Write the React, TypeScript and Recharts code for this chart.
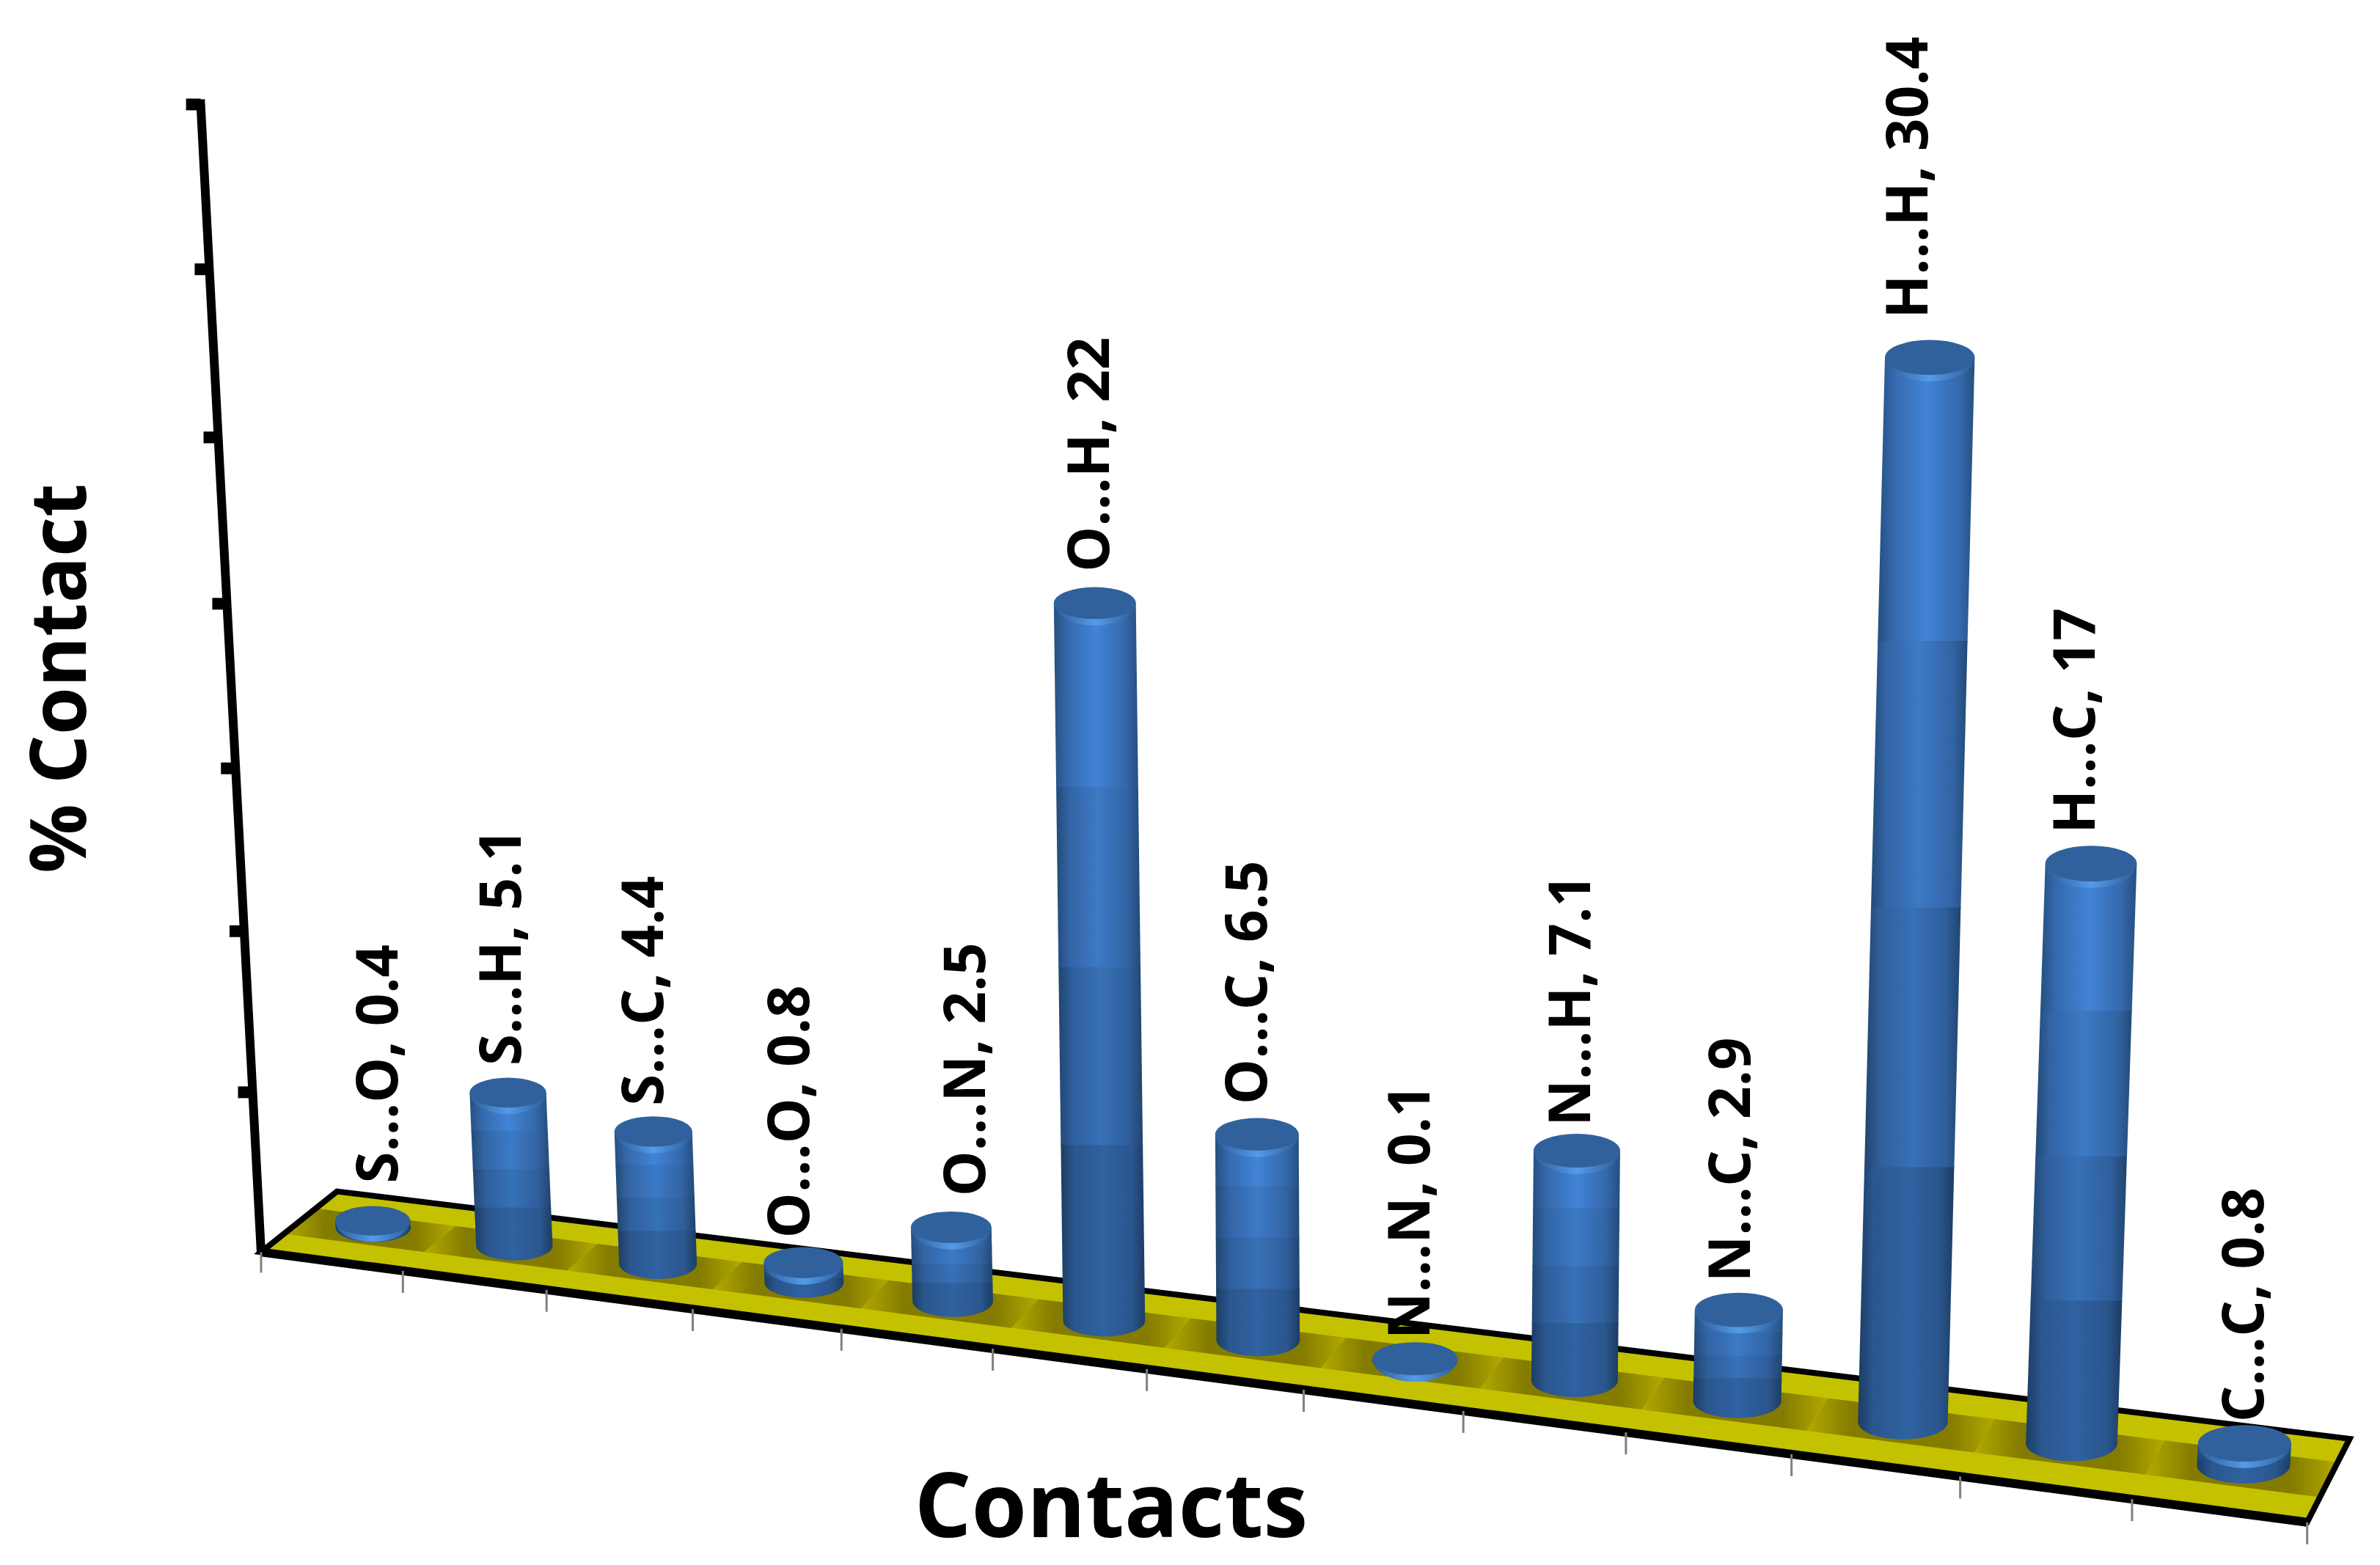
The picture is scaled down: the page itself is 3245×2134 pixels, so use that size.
import React from 'react';
import { ComposedChart, Bar, XAxis, YAxis, LabelList } from 'recharts';

const categories = ['S...O', 'S...H', 'S...C', 'O...O', 'O...N', 'O...H', 'O...C', 'N...N', 'N...H', 'N...C', 'H...H', 'H...C', 'C...C'];
const contactValues = [0.4, 5.1, 4.4, 0.8, 2.5, 22, 6.5, 0.1, 7.1, 2.9, 30.4, 17, 0.8];
const valueTicks = [0, 5, 10, 15, 20, 25, 30, 35];
const data = categories.map((name, i) => ({ name, value: contactValues[i] }));

const W = 3245;
const H = 2134;
const S = W / 1568;
const MAX = 35;
const FONT = '"Open Sans", sans-serif';

// perspective layout, in units of the shrunk reference
const FL = [172, 825];
const FR = [1520, 1003];
const BL = [222, 785];
const BR = [1548, 948];
const K = -0.11;
const VX = 905;
const VY = 14760;
const UNIT = 21.7;
const BAR_DEPTH = 0.55;
const CAP_DROP = 3.5;
const labelDx = [2, -6, -8, -11, 8, -5, -8, -5, -6, -7, -16, -12, -2];
const labelGap = [15, 8, 7, 6, 10, 10, 9, 2, 5, 7, 14, 8, 2];

const lerp = (a: number, b: number, t: number) => a + (b - a) * t;

// foreshortening: units high up the value axis look a little taller than units low down
const warp = (v: number, depth: number) => v * (1 + 0.00107 * (v - MAX)) + depth * Math.pow(v / 30.4, 6);

function project(u: number, value: number, depth: number) {
  const t = (u * (1 + K)) / (1 + K * u);
  const bx = lerp(lerp(FL[0], FR[0], t), lerp(BL[0], BR[0], t), depth);
  const by = lerp(lerp(FL[1], FR[1], t), lerp(BL[1], BR[1], t), depth);
  const scale = (UNIT / (1 + K * u)) * (1 - 0.07 * depth);
  const y = by - warp(value, depth) * scale;
  const x = VX + ((bx - VX) * (VY - y)) / (VY - by);
  return { x: x * S, y: y * S };
}

// a point on a bar's axis: the cap sits slightly into the cylinder, so its height is pulled in
function barPoint(uc: number, value: number, fraction: number) {
  const base = project(uc, 0, BAR_DEPTH);
  const top = project(uc, value, BAR_DEPTH);
  const drop = Math.min(CAP_DROP * S, (base.y - top.y) * 0.6);
  const p = project(uc, value * fraction, BAR_DEPTH);
  return { x: p.x, y: p.y + drop * fraction };
}

const pts = (list: { x: number; y: number }[]) => list.map((p) => `${p.x},${p.y}`).join(' ');
const BANDS = categories.length;

const bandShades = [
  { id: 'cyl0', edge: '#24507f', mid: '#3569ad', center: '#4184d6' },
  { id: 'cyl1', edge: '#224b78', mid: '#3364a5', center: '#3c7ac6' },
  { id: 'cyl2', edge: '#20466f', mid: '#305e9b', center: '#3771b7' },
  { id: 'cyl3', edge: '#1c3d63', mid: '#2b568e', center: '#2f62a1' },
];

function Defs() {
  return (
    <defs>
      {bandShades.map((b) => (
        <linearGradient key={b.id} id={b.id} x1="0" y1="0" x2="1" y2="0">
          <stop offset="0" stopColor={b.edge} />
          <stop offset="0.16" stopColor={b.mid} />
          <stop offset="0.5" stopColor={b.center} />
          <stop offset="0.84" stopColor={b.mid} />
          <stop offset="1" stopColor={b.edge} />
        </linearGradient>
      ))}
      <linearGradient id="stripe" x1="0" y1="0" x2="1" y2="0">
        <stop offset="0" stopColor="#b3aa00" />
        <stop offset="0.24" stopColor="#847c00" />
        <stop offset="0.76" stopColor="#847c00" />
        <stop offset="1" stopColor="#b3aa00" />
      </linearGradient>
      <linearGradient id="rim" x1="0" y1="0" x2="1" y2="0">
        <stop offset="0" stopColor="#2c5d99" />
        <stop offset="0.5" stopColor="#559be8" />
        <stop offset="1" stopColor="#2c5d99" />
      </linearGradient>
    </defs>
  );
}

function Floor() {
  const fl = project(0, 0, 0);
  const fr = project(1, 0, 0);
  const br = project(1, 0, 1);
  const bl = project(0, 0, 1);
  const stripes = categories.map((name, i) => {
    const u0 = i / BANDS;
    const u1 = (i + 1) / BANDS;
    return (
      <polygon
        key={name}
        points={pts([project(u0, 0, 0.3), project(u1, 0, 0.3), project(u1, 0, 0.72), project(u0, 0, 0.72)])}
        fill="url(#stripe)"
      />
    );
  });
  return (
    <g>
      <polygon points={pts([fl, fr, br, bl])} fill="#c4c200" />
      {stripes}
      <polygon points={pts([fl, fr, br, bl])} fill="none" stroke="#000" strokeWidth={8} strokeLinejoin="miter" />
      <line x1={fl.x} y1={fl.y} x2={fr.x} y2={fr.y} stroke="#000" strokeWidth={12} />
    </g>
  );
}

function ValueAxisLine() {
  const a = project(0, 0, 0);
  const b = project(0, MAX, 0);
  return <line x1={a.x} y1={a.y} x2={b.x} y2={b.y} stroke="#000" strokeWidth={12} />;
}

function ValueTick(props: any) {
  const value = ((H - props.y) / H) * MAX;
  const p = project(0, value, 0);
  return <rect x={p.x - 20} y={p.y - 8} width={20} height={16} fill="#000" />;
}

function CategoryTick(props: any) {
  const band = W / BANDS;
  const u = (props.x + band / 2) / W;
  const p = project(u, 0, 0);
  const first = project(0, 0, 0);
  return (
    <g>
      <line x1={p.x} y1={p.y} x2={p.x} y2={p.y + 30} stroke="#808080" strokeWidth={3} />
      {props.index === 0 && <line x1={first.x} y1={first.y} x2={first.x} y2={first.y + 28} stroke="#808080" strokeWidth={3} />}
    </g>
  );
}

function Cylinder(props: any) {
  const { x, width, height } = props;
  const value = (height / H) * MAX;
  const uc = (x + width / 2) / W;
  const left = project(x / W, 0, BAR_DEPTH);
  const right = project((x + width) / W, 0, BAR_DEPTH);
  const rx = (right.x - left.x) / 2;
  const ry = rx * 0.39;
  const top = barPoint(uc, value, 1);
  const segments = bandShades.map((b, i) => {
    const hi = barPoint(uc, value, (4 - i) / 4);
    const lo = barPoint(uc, value, (3 - i) / 4);
    const bottomArc = i === 3 ? `A ${rx} ${ry} 0 0 1 ${lo.x - rx} ${lo.y}` : `L ${lo.x - rx} ${lo.y + 1.5}`;
    const bottomY = i === 3 ? lo.y : lo.y + 1.5;
    return (
      <path
        key={b.id}
        d={`M ${hi.x - rx} ${hi.y} L ${hi.x + rx} ${hi.y} L ${lo.x + rx} ${bottomY} ${bottomArc} Z`}
        fill={`url(#${b.id})`}
      />
    );
  });
  return (
    <g>
      {segments}
      <path
        d={`M ${top.x - rx} ${top.y} A ${rx} ${ry + 9} 0 0 0 ${top.x + rx} ${top.y} A ${rx} ${ry} 0 0 1 ${top.x - rx} ${top.y} Z`}
        fill="url(#rim)"
      />
      <ellipse cx={top.x} cy={top.y} rx={rx} ry={ry} fill="#30619d" />
    </g>
  );
}

function BarLabel(props: any) {
  const { x, width, height, index, value } = props;
  const v = (height / H) * MAX;
  const uc = (x + width / 2) / W;
  const left = project(x / W, 0, BAR_DEPTH);
  const right = project((x + width) / W, 0, BAR_DEPTH);
  const ry = ((right.x - left.x) / 2) * 0.39;
  const top = barPoint(uc, v, 1);
  const px = top.x + labelDx[index] * S;
  const py = top.y - ry - labelGap[index] * S;
  return (
    <text
      transform={`translate(${px},${py}) rotate(-90)`}
      textAnchor="start"
      dominantBaseline="central"
      fontFamily={FONT}
      fontWeight={700}
      fontSize={78}
      fill="#000"
    >
      {`${categories[index]}, ${value}`}
    </text>
  );
}

function Titles() {
  return (
    <g fontFamily={FONT} fontWeight={700} fill="#000">
      <text transform={`translate(${37 * S},${447 * S}) rotate(-90)`} textAnchor="middle" dominantBaseline="central" fontSize={105}>
        % Contact
      </text>
      <text x={732 * S} y={990 * S} textAnchor="middle" dominantBaseline="central" fontSize={122}>
        Contacts
      </text>
    </g>
  );
}

export default function App() {
  return (
    <div style={{ position: 'absolute', left: 0, top: 0, width: W, height: H, background: '#fff' }}>
      <ComposedChart width={W} height={H} data={data} margin={{ top: 0, right: 0, bottom: 0, left: 0 }} barCategoryGap={0}>
        <Defs />
        <Floor />
        <ValueAxisLine />
        <XAxis dataKey="name" height={1} axisLine={false} tickLine={false} interval={0} tick={<CategoryTick />} />
        <YAxis width={1} domain={[0, MAX]} ticks={valueTicks} axisLine={false} tickLine={false} tick={<ValueTick />} />
        <Bar dataKey="value" barSize={134} isAnimationActive={false} shape={<Cylinder />}>
          <LabelList dataKey="value" content={<BarLabel />} />
        </Bar>
        <Titles />
      </ComposedChart>
    </div>
  );
}
